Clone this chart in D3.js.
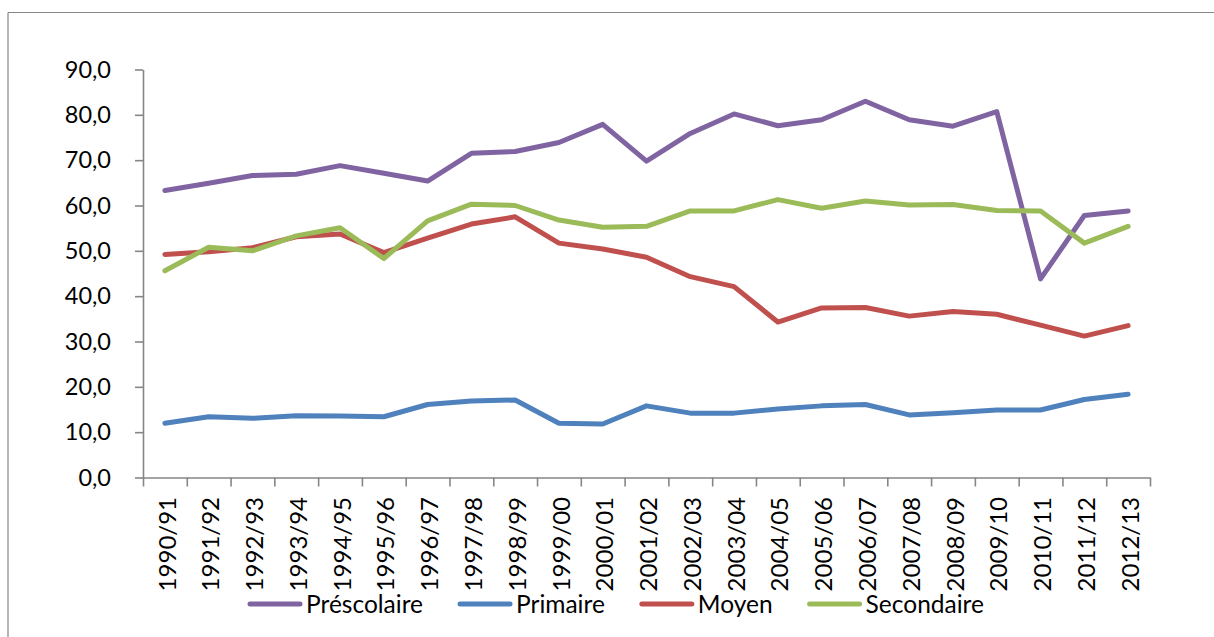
<!DOCTYPE html>
<html>
<head>
<meta charset="utf-8">
<script src="https://cdn.jsdelivr.net/npm/d3@7"></script>
<style>
  html, body { margin: 0; padding: 0; background: #fff; }
  svg { display: block; }
  text { font-family: Lato, "Open Sans", sans-serif; fill: #000; }
</style>
</head>
<body>
<svg id="chart" width="1214" height="637"></svg>
<script>
// ---- Data ----
const categories = ["1990/91","1991/92","1992/93","1993/94","1994/95","1995/96","1996/97","1997/98","1998/99","1999/00","2000/01","2001/02","2002/03","2003/04","2004/05","2005/06","2006/07","2007/08","2008/09","2009/10","2010/11","2011/12","2012/13"];
const prescolaire = [63.3,64.9,66.6,66.9,68.8,67.1,65.4,71.5,71.9,73.9,77.9,69.8,75.9,80.2,77.6,78.9,83.0,78.9,77.5,80.7,43.8,57.8,58.8];
const primaire    = [11.95,13.4,13.05,13.6,13.55,13.4,16.1,16.9,17.1,11.95,11.8,15.8,14.2,14.2,15.1,15.8,16.1,13.8,14.3,14.9,14.9,17.2,18.35];
const moyen       = [49.2,49.8,50.7,53.1,53.7,49.6,52.8,55.9,57.5,51.7,50.4,48.6,44.3,42.1,34.3,37.4,37.5,35.6,36.6,36.0,33.6,31.2,33.5];
const secondaire  = [45.6,50.8,50.0,53.3,55.1,48.3,56.6,60.3,60.0,56.8,55.2,55.4,58.8,58.8,61.3,59.4,61.0,60.1,60.2,58.9,58.8,51.7,55.4];
const seriesNames = ["Préscolaire","Primaire","Moyen","Secondaire"];
const seriesColors = ["#8064A2","#4F81BD","#C0504D","#9BBB59"];
const yTicks = [0,10,20,30,40,50,60,70,80,90];

const seriesValues = [prescolaire, primaire, moyen, secondaire];

// ---- Layout ----
const svg = d3.select("#chart");
const plotLeft = 143, plotRight = 1150, plotTop = 69.5, plotBottom = 477.5;
const axisColor = "#868686";

// outer frame (top + left edges visible)
svg.append("line").attr("x1", 8).attr("x2", 1214).attr("y1", 12.5).attr("y2", 12.5)
  .attr("stroke", axisColor).attr("stroke-width", 1.2);
svg.append("line").attr("x1", 8).attr("x2", 8).attr("y1", 12.5).attr("y2", 637)
  .attr("stroke", axisColor).attr("stroke-width", 1.2);

const x = d3.scaleBand().domain(categories).range([plotLeft, plotRight]).padding(0);
const xEdge = d3.scaleLinear().domain([0, categories.length]).range([plotLeft, plotRight]);
const y = d3.scaleLinear().domain([0, 90]).range([plotBottom, plotTop]);

const fmt = v => d3.format(".1f")(v).replace(".", ",");

// Y axis
const yAxis = svg.append("g").attr("transform", `translate(${plotLeft},0)`)
  .call(d3.axisLeft(y).tickValues(yTicks).tickFormat(fmt).tickSize(8).tickSizeOuter(0).tickPadding(24));
yAxis.select(".domain").attr("stroke", axisColor).attr("stroke-width", 1.6);
yAxis.selectAll(".tick line").attr("stroke", axisColor).attr("stroke-width", 1.6);
yAxis.selectAll(".tick text").attr("font-family", "Lato, sans-serif").attr("font-size", 23.5).attr("fill", "#000");

// X axis (ticks between categories)
const xTickAxis = svg.append("g").attr("transform", `translate(0,${plotBottom})`)
  .call(d3.axisBottom(xEdge).tickValues(d3.range(0, categories.length + 1)).tickFormat("").tickSize(9).tickSizeOuter(0));
xTickAxis.select(".domain").attr("stroke", axisColor).attr("stroke-width", 1.6);
xTickAxis.selectAll(".tick line").attr("stroke", axisColor).attr("stroke-width", 1.6);

// X labels
const xLabelAxis = svg.append("g").attr("transform", `translate(0,${plotBottom})`)
  .call(d3.axisBottom(x).tickSize(0).tickSizeOuter(0));
xLabelAxis.select(".domain").remove();
xLabelAxis.selectAll(".tick text")
  .attr("font-family", "Lato, sans-serif").attr("font-size", 24).attr("fill", "#000")
  .attr("text-anchor", "end")
  .attr("transform", "translate(2,19.5) rotate(-90)")
  .attr("x", 0).attr("y", 0).attr("dy", "0.36em");

// Lines
const line = d3.line().x((d, i) => x(categories[i]) + x.bandwidth() / 2).y(d => y(d));
seriesValues.forEach((vals, k) => {
  svg.append("path").datum(vals)
    .attr("d", line)
    .attr("fill", "none")
    .attr("stroke", seriesColors[k])
    .attr("stroke-width", 5)
    .attr("stroke-linejoin", "round")
    .attr("stroke-linecap", "round");
});

// Legend
const legY = 604;
let lx = 248;
seriesNames.forEach((name, k) => {
  const g = svg.append("g");
  g.append("line").attr("x1", lx + 2).attr("x2", lx + 52).attr("y1", legY).attr("y2", legY)
    .attr("stroke", seriesColors[k]).attr("stroke-width", 5).attr("stroke-linecap", "round");
  const t = g.append("text").attr("x", lx + 58).attr("y", legY).attr("dy", "0.35em")
    .attr("font-family", "Lato, sans-serif").attr("font-size", 24.5).text(name);
  const w = t.node().getComputedTextLength();
  lx = lx + 58 + w + 35;
});
</script>
</body>
</html>
